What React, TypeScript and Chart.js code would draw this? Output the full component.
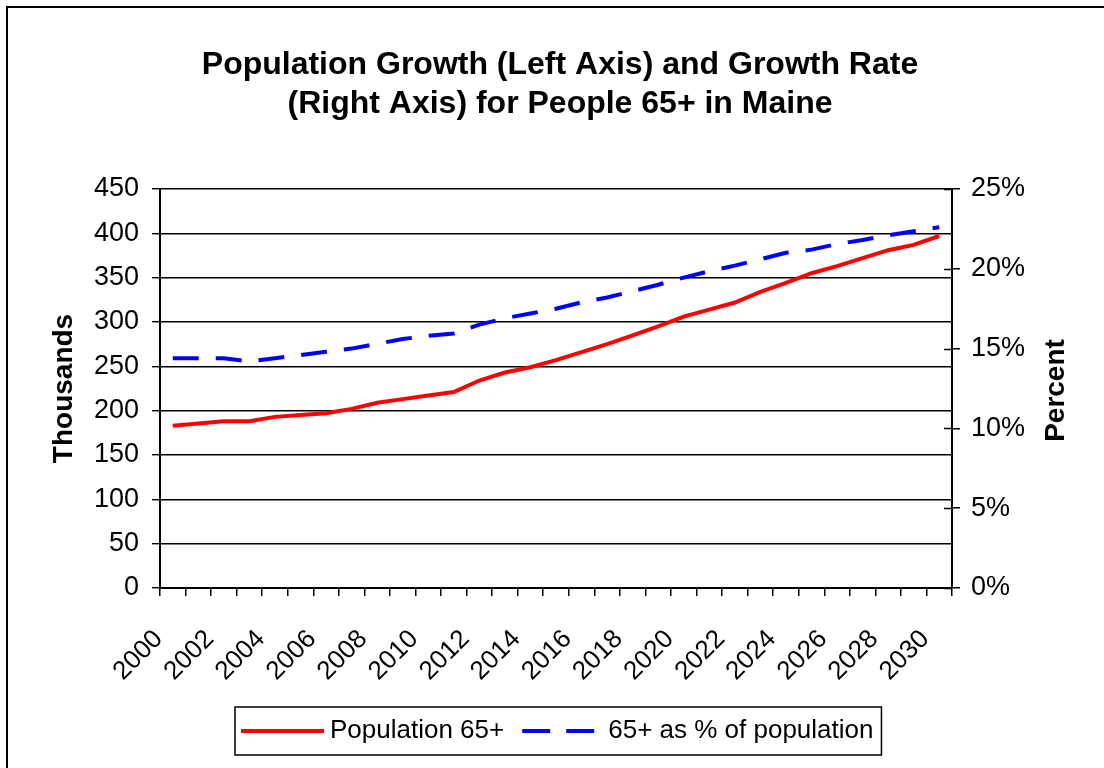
import React, { useEffect, useRef } from "react";
import { Chart, registerables } from "chart.js";

Chart.register(...registerables);

const FONT = "'Liberation Sans', Arial, Helvetica, sans-serif";

const TITLE_LINES = [
  "Population Growth (Left Axis) and Growth Rate",
  "(Right Axis) for People 65+ in Maine",
];
const LEFT_TITLE = "Thousands";
const RIGHT_TITLE = "Percent";

const years = [
  "2000", "2001", "2002", "2003", "2004", "2005", "2006", "2007", "2008", "2009",
  "2010", "2011", "2012", "2013", "2014", "2015", "2016", "2017", "2018", "2019",
  "2020", "2021", "2022", "2023", "2024", "2025", "2026", "2027", "2028", "2029", "2030",
];

// Population 65+ (thousands)
const population65 = [
  183, 185.5, 188, 188, 193, 195, 197, 202, 209, 213,
  217, 221, 234, 243, 249, 257, 266, 275, 285, 295,
  306, 314, 322, 334, 344, 355, 363, 372, 381, 387, 397,
];

// 65+ as % of population
const percent65 = [
  14.4, 14.4, 14.4, 14.2, 14.4, 14.6, 14.8, 15.0, 15.3, 15.6,
  15.8, 15.95, 16.5, 16.9, 17.2, 17.5, 17.9, 18.2, 18.6, 19.0,
  19.45, 19.85, 20.2, 20.6, 21.0, 21.2, 21.55, 21.8, 22.1, 22.35, 22.6,
];

const leftMin = 0;
const leftMax = 450;
const leftStep = 50;
const rightMin = 0;
const rightMax = 25;
const rightStep = 5;

const seriesLabels = ["Population 65+", "65+ as % of population"];
const RED = "#ff0000";
const BLUE = "#0000ff";
const DASH = [26, 17];

const decorPlugin = {
  id: "decor",
  afterDraw(chart: any) {
    const ctx = chart.ctx as CanvasRenderingContext2D;
    const area = chart.chartArea;
    ctx.save();

    // outer frame
    ctx.strokeStyle = "#000";
    ctx.lineWidth = 2;
    ctx.beginPath();
    ctx.moveTo(7, chart.height + 5);
    ctx.lineTo(7, 7);
    ctx.lineTo(chart.width + 5, 7);
    ctx.stroke();

    // title
    ctx.fillStyle = "#000";
    ctx.font = `bold 32px ${FONT}`;
    ctx.textAlign = "center";
    ctx.textBaseline = "alphabetic";
    TITLE_LINES.forEach((t, i) => ctx.fillText(t, 560, 74 + i * 39));

    // axis titles (both read bottom-to-top)
    const midY = (area.top + area.bottom) / 2;
    ctx.font = `bold 28px ${FONT}`;
    ctx.textBaseline = "middle";
    ctx.save();
    ctx.translate(64, midY);
    ctx.rotate(-Math.PI / 2);
    ctx.fillText(LEFT_TITLE, 0, 0);
    ctx.restore();
    ctx.save();
    ctx.translate(1056, midY + 2);
    ctx.rotate(-Math.PI / 2);
    ctx.fillText(RIGHT_TITLE, 0, 0);
    ctx.restore();

    // right axis: inner half of cross tick marks
    const y1 = chart.scales.y1;
    ctx.strokeStyle = "#000";
    ctx.lineWidth = 1.5;
    y1.ticks.forEach((t: any) => {
      const py = Math.round(y1.getPixelForValue(t.value)) + 0.5;
      ctx.beginPath();
      ctx.moveTo(area.right - 8, py);
      ctx.lineTo(area.right, py);
      ctx.stroke();
    });

    // legend
    ctx.font = `26px ${FONT}`;
    ctx.textAlign = "left";
    ctx.textBaseline = "middle";
    const w0 = ctx.measureText(seriesLabels[0]).width;
    const w1 = ctx.measureText(seriesLabels[1]).width;
    const sample0 = 83;
    const sample1 = 72;
    const padL = 6, gapT = 6, gapS = 18, gapT2 = 14, padR = 8;
    const boxW = padL + sample0 + gapT + w0 + gapS + sample1 + gapT2 + w1 + padR;
    const boxX = Math.round(558 - boxW / 2);
    const boxY = 707;
    const boxH = 48;
    const cy = boxY + boxH / 2;
    ctx.fillStyle = "#fff";
    ctx.fillRect(boxX, boxY, boxW, boxH);
    ctx.strokeStyle = "#000";
    ctx.lineWidth = 1.5;
    ctx.strokeRect(boxX, boxY, boxW, boxH);
    let x = boxX + padL;
    ctx.lineWidth = 4;
    ctx.strokeStyle = RED;
    ctx.beginPath();
    ctx.moveTo(x, cy);
    ctx.lineTo(x + sample0, cy);
    ctx.stroke();
    x += sample0 + gapT;
    ctx.fillStyle = "#000";
    ctx.fillText(seriesLabels[0], x, cy);
    x += w0 + gapS;
    ctx.strokeStyle = BLUE;
    ctx.setLineDash([28, 16]);
    ctx.beginPath();
    ctx.moveTo(x, cy);
    ctx.lineTo(x + sample1, cy);
    ctx.stroke();
    ctx.setLineDash([]);
    x += sample1 + gapT2;
    ctx.fillText(seriesLabels[1], x, cy);

    ctx.restore();
  },
};

export default function App() {
  const ref = useRef<HTMLCanvasElement | null>(null);

  useEffect(() => {
    if (!ref.current) return;
    const chart = new Chart(ref.current, {
      type: "line",
      data: {
        labels: years,
        datasets: [
          {
            label: seriesLabels[0],
            data: population65,
            borderColor: RED,
            backgroundColor: RED,
            borderWidth: 4,
            pointRadius: 0,
            tension: 0,
            yAxisID: "y",
          },
          {
            label: seriesLabels[1],
            data: percent65,
            borderColor: BLUE,
            backgroundColor: BLUE,
            borderWidth: 4,
            borderDash: DASH,
            pointRadius: 0,
            tension: 0,
            yAxisID: "y1",
          },
        ],
      },
      options: {
        responsive: false,
        animation: false,
        devicePixelRatio: 1,
        layout: { padding: { top: 189, bottom: 80, left: 0, right: 0 } },
        plugins: {
          legend: { display: false },
          title: { display: false },
          tooltip: { enabled: false },
        },
        scales: {
          x: {
            type: "category",
            offset: true,
            grid: {
              offset: true,
              drawOnChartArea: false,
              drawTicks: true,
              tickLength: 8,
              color: "#000",
              lineWidth: 1.5,
            },
            border: { display: true, color: "#000", width: 2 },
            ticks: {
              autoSkip: false,
              maxRotation: 45,
              minRotation: 45,
              color: "#000",
              padding: 28,
              labelOffset: -14,
              font: { family: FONT, size: 26 },
              callback: (_v: any, i: number) => (i % 2 === 0 ? years[i] : ""),
            },
            afterFit: (s: any) => {
              s.height = 100;
            },
          },
          y: {
            position: "left",
            min: leftMin,
            max: leftMax,
            grid: {
              drawOnChartArea: true,
              drawTicks: true,
              tickLength: 8,
              color: "#000",
              lineWidth: 1.4,
            },
            border: { display: true, color: "#000", width: 2 },
            ticks: {
              stepSize: leftStep,
              color: "#000",
              padding: 13,
              font: { family: FONT, size: 27 },
            },
            afterFit: (s: any) => {
              s.width = 160;
            },
          },
          y1: {
            position: "right",
            min: rightMin,
            max: rightMax,
            grid: {
              drawOnChartArea: false,
              drawTicks: true,
              tickLength: 8,
              color: "#000",
              lineWidth: 1.5,
            },
            border: { display: true, color: "#000", width: 2 },
            ticks: {
              stepSize: rightStep,
              color: "#000",
              padding: 11,
              font: { family: FONT, size: 27 },
              callback: (v: any) => `${v}%`,
            },
            afterFit: (s: any) => {
              s.width = 152;
            },
          },
        },
      },
      plugins: [decorPlugin],
    });
    return () => chart.destroy();
  }, []);

  return (
    <div
      style={{
        position: "fixed",
        left: 0,
        top: 0,
        width: 1104,
        height: 768,
        background: "#fff",
        overflow: "hidden",
      }}
    >
      <canvas ref={ref} width={1104} height={768} style={{ display: "block" }} />
    </div>
  );
}
